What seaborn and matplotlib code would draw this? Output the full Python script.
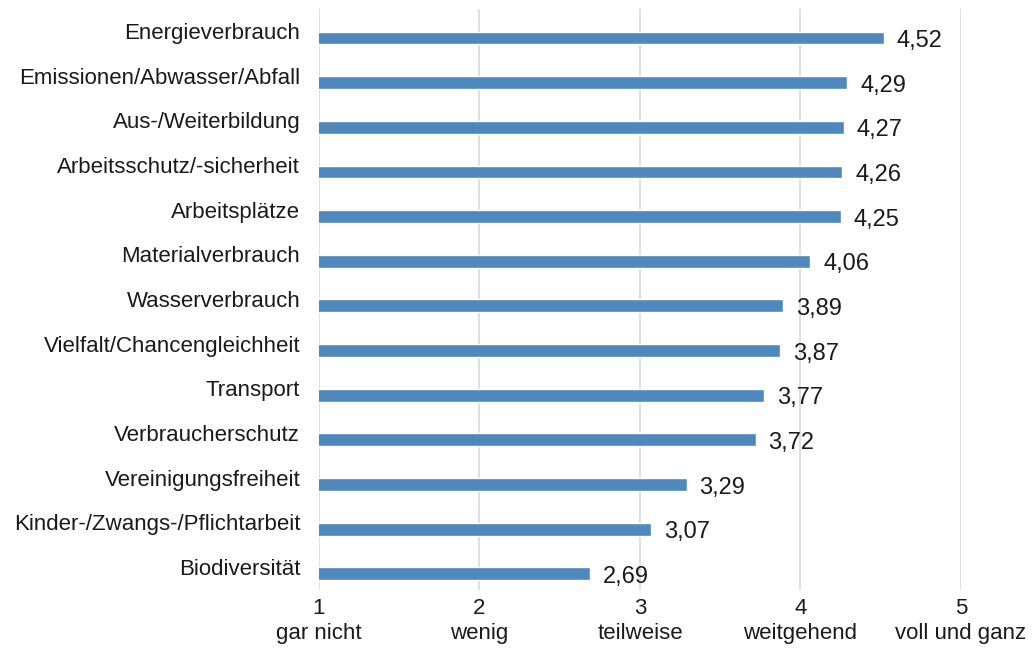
import matplotlib
matplotlib.use("Agg")
import matplotlib.pyplot as plt
import matplotlib.transforms as mtransforms
import seaborn as sns
import pandas as pd

categories = ["Energieverbrauch", "Emissionen/Abwasser/Abfall", "Aus-/Weiterbildung",
              "Arbeitsschutz/-sicherheit", "Arbeitsplätze", "Materialverbrauch",
              "Wasserverbrauch", "Vielfalt/Chancengleichheit", "Transport",
              "Verbraucherschutz", "Vereinigungsfreiheit", "Kinder-/Zwangs-/Pflichtarbeit",
              "Biodiversität"]
values = [4.52, 4.29, 4.27, 4.26, 4.25, 4.06, 3.89, 3.87, 3.77, 3.72, 3.29, 3.07, 2.69]
scale_ticks = [1, 2, 3, 4, 5]
scale_labels = ["gar nicht", "wenig", "teilweise", "weitgehend", "voll und ganz"]

df = pd.DataFrame({"Kategorie": categories, "Wert": values})

sns.set_style("white")
plt.rcParams["font.family"] = ["Liberation Sans", "DejaVu Sans"]

fig = plt.figure(figsize=(10.35, 6.51), dpi=100)
ax = fig.add_axes([0.3082, 0.0937, 0.6203, 0.8925])

sns.barplot(data=df, x="Wert", y="Kategorie", orient="h", color="#4f88bd",
            saturation=1, width=0.29, ax=ax, zorder=3)

ax.set_xlim(1, 5)
ax.set_ylim(12.36, -0.65)
ax.set_xticks(scale_ticks)
ax.set_xticklabels([f"{t}\n{l}" for t, l in zip(scale_ticks, scale_labels)],
                   fontsize=16, linespacing=1.2, color="#1a1a1a")
ax.tick_params(axis="x", length=0, pad=6)
ax.tick_params(axis="y", length=0, pad=13.5, labelsize=16, labelcolor="#1a1a1a")
ax.grid(axis="x", color="#dcdcdc", linewidth=1.3, zorder=0)
ax.grid(axis="y", visible=False)
for s in ax.spines.values():
    s.set_visible(False)
ax.set_xlabel("")
ax.set_ylabel("")

# category labels sit a bit above the bar centre
up = mtransforms.ScaledTranslation(0, 7 / 100, fig.dpi_scale_trans)
for lab in ax.get_yticklabels():
    lab.set_transform(lab.get_transform() + up)

# value labels, german decimal comma
off = mtransforms.ScaledTranslation(13 / 100, -3 / 100, fig.dpi_scale_trans)
for i, v in enumerate(values):
    ax.text(v, i, f"{v:.2f}".replace(".", ","), fontsize=17, color="#1a1a1a",
            va="center", ha="left", transform=ax.transData + off)

fig.savefig("out.png", dpi=100)
